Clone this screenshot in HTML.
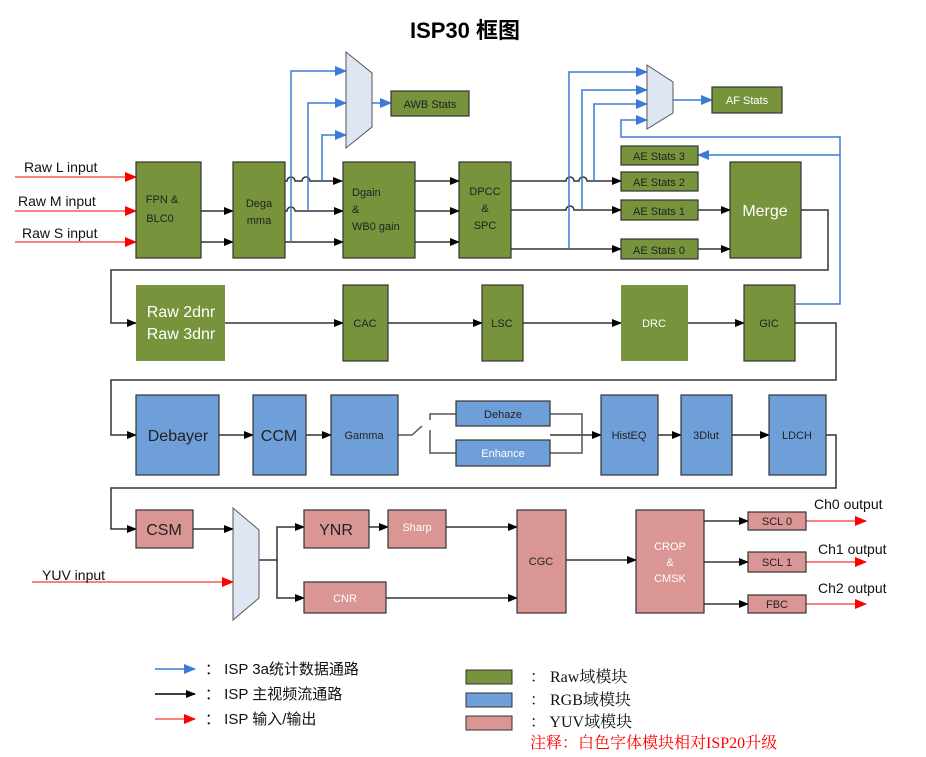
<!DOCTYPE html>
<html><head><meta charset="utf-8"><style>
body{margin:0;background:#fff;}
svg{display:block;font-family:"Liberation Sans","Noto Sans CJK SC",sans-serif;}
</style></head><body>
<svg width="926" height="757" viewBox="0 0 926 757" xmlns="http://www.w3.org/2000/svg">
<defs>
<marker id="ab" markerWidth="10" markerHeight="8" refX="9" refY="4" orient="auto" markerUnits="userSpaceOnUse"><path d="M0,0 L10,4 L0,8 z" fill="#000"/></marker>
<marker id="abl" markerWidth="12" markerHeight="10" refX="11" refY="5" orient="auto" markerUnits="userSpaceOnUse"><path d="M0,0 L12,5 L0,10 z" fill="#3a7bd5"/></marker>
<marker id="ar" markerWidth="12" markerHeight="10" refX="11" refY="5" orient="auto" markerUnits="userSpaceOnUse"><path d="M0,0 L12,5 L0,10 z" fill="#f00"/></marker>
</defs>
<text x="465" y="38" font-size="22" font-weight="bold" text-anchor="middle">ISP30 框图</text>

<g fill="none" stroke-width="1.5">
<g stroke="#f55" marker-end="url(#ar)">
<line x1="15" y1="177" x2="136" y2="177"/><line x1="15" y1="211" x2="136" y2="211"/><line x1="15" y1="242" x2="136" y2="242"/>
<line x1="32" y1="582" x2="233" y2="582"/>
<line x1="806" y1="521" x2="866" y2="521"/><line x1="806" y1="562" x2="866" y2="562"/><line x1="806" y1="604" x2="866" y2="604"/>
</g>
<g stroke="#333" marker-end="url(#ab)">
<line x1="201" y1="211" x2="233" y2="211"/><line x1="201" y1="242" x2="233" y2="242"/>
<path d="M285,181 h2 a4,4 0 0 1 8,0 h7 a4,4 0 0 1 8,0 h32"/>
<path d="M285,211 h2 a4,4 0 0 1 8,0 h48"/>
<line x1="285" y1="242" x2="343" y2="242"/>
<line x1="415" y1="181" x2="459" y2="181"/><line x1="415" y1="211" x2="459" y2="211"/><line x1="415" y1="242" x2="459" y2="242"/>
<path d="M491,181 h75 a4,4 0 0 1 8,0 h5 a4,4 0 0 1 8,0 h34"/>
<path d="M511,210 h55 a4,4 0 0 1 8,0 h47"/>
<line x1="511" y1="249" x2="621" y2="249"/>
<line x1="698" y1="210" x2="730" y2="210"/><line x1="698" y1="249" x2="730" y2="249"/>
<polyline points="801,210 828,210 828,270 111,270 111,323 136,323"/>
<line x1="225" y1="323" x2="343" y2="323"/><line x1="388" y1="323" x2="482" y2="323"/><line x1="523" y1="323" x2="621" y2="323"/><line x1="688" y1="323" x2="744" y2="323"/>
<polyline points="795,323 836,323 836,380 111,380 111,435 136,435"/>
<line x1="219" y1="435" x2="253" y2="435"/><line x1="306" y1="435" x2="331" y2="435"/>
<line x1="550" y1="435" x2="601" y2="435"/><line x1="658" y1="435" x2="681" y2="435"/><line x1="732" y1="435" x2="769" y2="435"/>
<polyline points="826,435 836,435 836,488 111,488 111,529 136,529"/>
<line x1="193" y1="529" x2="233" y2="529"/>
<polyline points="259,560 277,560 277,527 304,527"/>
<polyline points="277,560 277,598 304,598"/>
<line x1="369" y1="527" x2="388" y2="527"/>
<line x1="446" y1="527" x2="517" y2="527"/><line x1="386" y1="598" x2="517" y2="598"/>
<line x1="566" y1="560" x2="636" y2="560"/>
<line x1="704" y1="521" x2="748" y2="521"/><line x1="704" y1="562" x2="748" y2="562"/><line x1="704" y1="604" x2="748" y2="604"/>
</g>
<g stroke="#555">
<polyline points="398,435 412,435 422,426"/>
<polyline points="456,414 430,414 430,420"/><polyline points="430,430 430,453 456,453"/>
<polyline points="550,414 582,414 582,453 550,453"/>
</g>
<g stroke="#3a7bd5" marker-end="url(#abl)">
<polyline points="291,242 291,71 346,71"/><polyline points="308,211 308,103 346,103"/><polyline points="322,181 322,135 346,135"/>
<line x1="372" y1="103" x2="391" y2="103"/>
<polyline points="569,249 569,72 647,72"/><polyline points="582,210 582,90 647,90"/><polyline points="594,181 594,104 647,104"/>
<polyline points="796,304 840,304 840,137 621,137 621,120 647,120"/>
<polyline points="840,155 698,155"/>
<line x1="673" y1="100" x2="712" y2="100"/>
</g>
</g>

<g fill="#dde6f2" stroke="#555" stroke-width="1">
<polygon points="346,52 372,73 372,127 346,148"/>
<polygon points="647,65 673,82 673,113 647,129"/>
<polygon points="233,508 259,530 259,598 233,620"/>
</g>

<g stroke="#333" stroke-width="1.2">
<g fill="#77933c">
<rect x="136" y="162" width="65" height="96"/><rect x="233" y="162" width="52" height="96"/>
<rect x="343" y="162" width="72" height="96"/><rect x="459" y="162" width="52" height="96"/>
<rect x="391" y="91" width="78" height="25"/><rect x="712" y="87" width="70" height="26"/>
<rect x="621" y="146" width="77" height="19"/><rect x="621" y="172" width="77" height="19"/>
<rect x="621" y="200" width="77" height="20"/><rect x="621" y="239" width="77" height="20"/>
<rect x="730" y="162" width="71" height="96"/>
<rect x="343" y="285" width="45" height="76"/><rect x="482" y="285" width="41" height="76"/><rect x="744" y="285" width="51" height="76"/>
</g>
<rect x="136" y="285" width="89" height="76" fill="#77933c" stroke="none"/>
<rect x="621" y="285" width="67" height="76" fill="#77933c" stroke="none"/>
<g fill="#6f9fd8">
<rect x="136" y="395" width="83" height="80"/><rect x="253" y="395" width="53" height="80"/><rect x="331" y="395" width="67" height="80"/>
<rect x="456" y="401" width="94" height="25"/><rect x="456" y="440" width="94" height="26"/>
<rect x="601" y="395" width="57" height="80"/><rect x="681" y="395" width="51" height="80"/><rect x="769" y="395" width="57" height="80"/>
</g>
<g fill="#d99694">
<rect x="136" y="510" width="57" height="38"/><rect x="304" y="510" width="65" height="38"/><rect x="388" y="510" width="58" height="38"/>
<rect x="304" y="582" width="82" height="31"/><rect x="517" y="510" width="49" height="103"/><rect x="636" y="510" width="68" height="103"/>
<rect x="748" y="512" width="58" height="18"/><rect x="748" y="552" width="58" height="20"/><rect x="748" y="595" width="58" height="18"/>
</g>
</g>

<g font-size="11" fill="#222" text-anchor="middle">
<text x="162" y="203">FPN &amp;</text><text x="160" y="222">BLC0</text>
<text x="259" y="207">Dega</text><text x="259" y="224">mma</text>
<text x="352" y="196" text-anchor="start">Dgain</text>
<text x="352" y="213" text-anchor="start">&amp;</text><text x="352" y="230" text-anchor="start">WB0 gain</text>
<text x="485" y="195">DPCC</text><text x="485" y="212">&amp;</text><text x="485" y="229">SPC</text>
<text x="430" y="108">AWB Stats</text>
<text x="659" y="160">AE Stats 3</text><text x="659" y="186">AE Stats 2</text><text x="659" y="215">AE Stats 1</text><text x="659" y="254">AE Stats 0</text>
<text x="365" y="327">CAC</text><text x="502" y="327">LSC</text><text x="769" y="327">GIC</text>
<text x="364" y="439">Gamma</text><text x="503" y="418">Dehaze</text>
<text x="629" y="439">HistEQ</text><text x="706" y="439">3Dlut</text><text x="797" y="439">LDCH</text>
<text x="541" y="565">CGC</text>
<text x="777" y="525">SCL 0</text><text x="777" y="566">SCL 1</text><text x="777" y="608">FBC</text>
</g>
<g font-size="11" fill="#fff" text-anchor="middle">
<text x="747" y="104">AF Stats</text>
<text x="654" y="327">DRC</text><text x="503" y="457">Enhance</text>
<text x="417" y="531">Sharp</text><text x="345" y="602">CNR</text>
<text x="670" y="550">CROP</text><text x="670" y="566">&amp;</text><text x="670" y="582">CMSK</text>
</g>
<g font-size="16" fill="#fff" text-anchor="middle">
<text x="765" y="216">Merge</text>
<text x="181" y="317">Raw 2dnr</text><text x="181" y="339">Raw 3dnr</text>
</g>
<g font-size="16" fill="#222" text-anchor="middle">
<text x="178" y="441">Debayer</text><text x="279" y="441">CCM</text>
<text x="164" y="535">CSM</text><text x="336" y="535">YNR</text>
</g>
<g font-size="14" fill="#111">
<text x="24" y="172">Raw L input</text><text x="18" y="206">Raw M input</text><text x="22" y="238">Raw S input</text>
<text x="42" y="580">YUV input</text>
<text x="814" y="509">Ch0 output</text><text x="818" y="554">Ch1 output</text><text x="818" y="593">Ch2 output</text>
</g>

<g stroke-width="1.5" fill="none">
<line x1="155" y1="669" x2="195" y2="669" stroke="#3a7bd5" marker-end="url(#abl)"/>
<line x1="155" y1="694" x2="195" y2="694" stroke="#000" marker-end="url(#ab)"/>
<line x1="155" y1="719" x2="195" y2="719" stroke="#f55" marker-end="url(#ar)"/>
</g>
<g font-size="15" fill="#111">
<text x="205" y="674">： ISP 3a统计数据通路</text>
<text x="205" y="699">： ISP 主视频流通路</text>
<text x="205" y="724">： ISP 输入/输出</text>
</g>
<g stroke="#333">
<rect x="466" y="670" width="46" height="14" fill="#77933c"/>
<rect x="466" y="693" width="46" height="14" fill="#6f9fd8"/>
<rect x="466" y="716" width="46" height="14" fill="#d99694"/>
</g>
<g font-size="16" fill="#111" font-family="Liberation Serif,Noto Serif CJK SC,serif">
<text x="530" y="682">：  Raw域模块</text>
<text x="530" y="705">：  RGB域模块</text>
<text x="530" y="727">：  YUV域模块</text>
</g>
<text x="530" y="748" font-size="16" fill="#f00" font-family="Liberation Serif,Noto Serif CJK SC,serif">注释：白色字体模块相对ISP20升级</text>
</svg>
</body></html>
